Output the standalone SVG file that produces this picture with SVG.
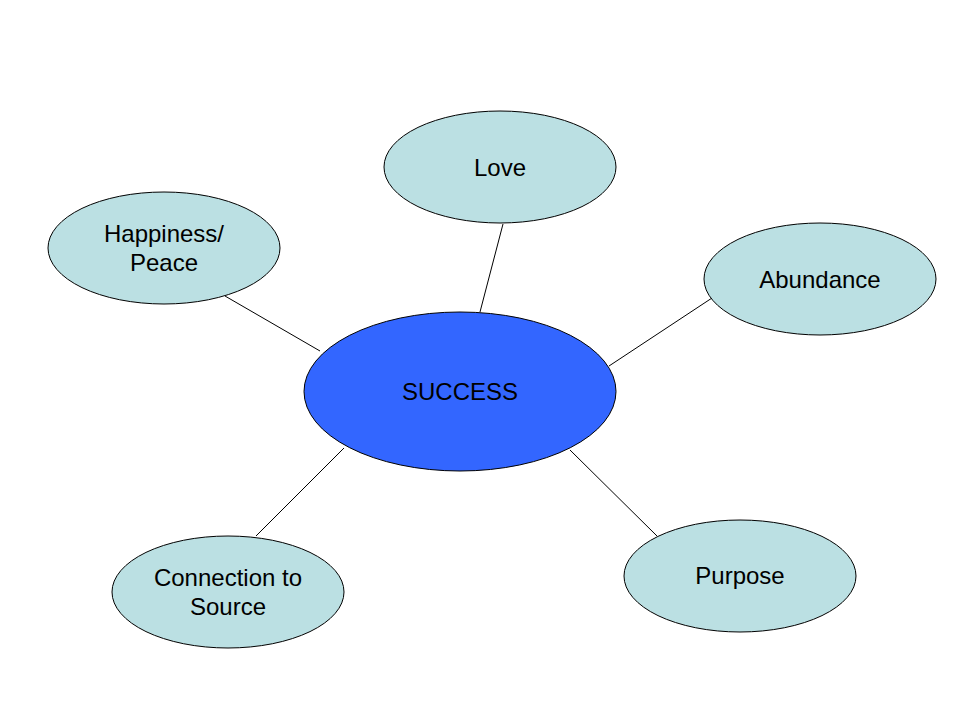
<svg xmlns="http://www.w3.org/2000/svg" width="960" height="720" viewBox="0 0 960 720">
<style>
.n{fill:#BBE0E3;stroke:#000;stroke-width:1}
.c{fill:#3366FF;stroke:#000;stroke-width:1}
text{font-family:"Liberation Sans",Arial,sans-serif;font-size:24px;fill:#000;text-anchor:middle}
.e line{stroke:#000;stroke-width:1}
</style>
<rect width="960" height="720" fill="#fff"/>
<g id="edges" class="e">
<line x1="503" y1="224" x2="480" y2="312"/>
<line x1="225" y1="296" x2="320" y2="351"/>
<line x1="712" y1="298" x2="609" y2="366"/>
<line x1="256" y1="536" x2="344" y2="448"/>
<line x1="570" y1="450" x2="657" y2="536"/>
</g>
<g id="success"><ellipse class="c" cx="460" cy="391.5" rx="156" ry="79.5"/><text x="460" y="400">SUCCESS</text></g>
<g id="love"><ellipse class="n" cx="500" cy="167" rx="116" ry="56"/><text x="500" y="176">Love</text></g>
<g id="happiness"><ellipse class="n" cx="164" cy="248" rx="116" ry="56"/><text x="164" y="242">Happiness/</text><text x="164" y="271">Peace</text></g>
<g id="abundance"><ellipse class="n" cx="820" cy="279" rx="116" ry="56"/><text x="820" y="288">Abundance</text></g>
<g id="purpose"><ellipse class="n" cx="740" cy="576" rx="116" ry="56"/><text x="740" y="584">Purpose</text></g>
<g id="connection"><ellipse class="n" cx="228" cy="592" rx="116" ry="56"/><text x="228" y="586">Connection to</text><text x="228" y="615">Source</text></g>
</svg>
